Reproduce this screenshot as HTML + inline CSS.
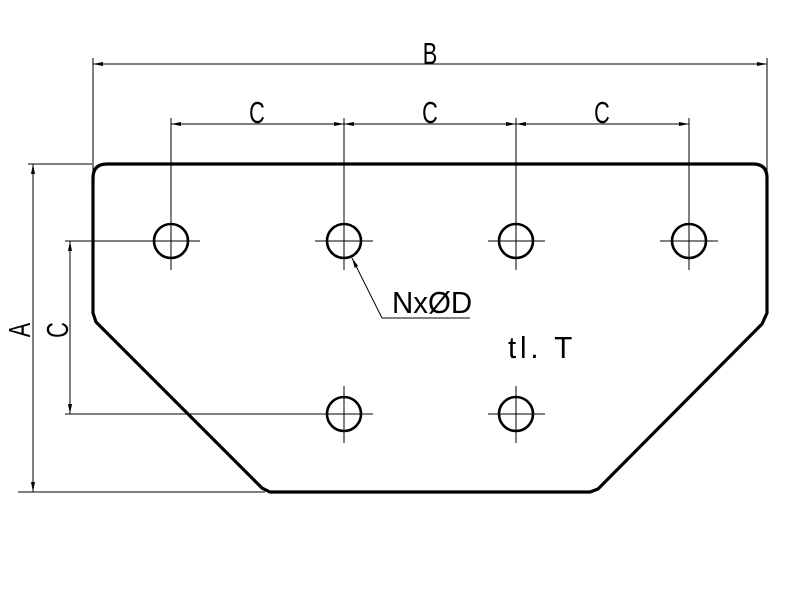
<!DOCTYPE html>
<html><head><meta charset="utf-8"><style>
html,body{margin:0;padding:0;background:#fff;}
svg{display:block}
text{font-family:"Liberation Sans",sans-serif;fill:#000;}
</style></head><body>
<svg width="800" height="599" viewBox="0 0 800 599" xmlns="http://www.w3.org/2000/svg">
<defs>
<marker id="ar" viewBox="0 0 10 4" refX="10" refY="2" markerWidth="10" markerHeight="4" markerUnits="userSpaceOnUse" orient="auto-start-reverse">
<path d="M0,0 L10,2 L0,4 z" fill="#000"/></marker>
</defs>
<g stroke="#000" fill="none">
<path d="M107,164 L753,164 Q767,164 767,178 L767,313 L762,324 L598,489 L590,492 L270,492 L262,488 L96,322 L93,313 L93,178 Q93,164 107,164 Z" stroke-width="3.2"/>
<g stroke-width="2.6">
<circle cx="171" cy="241" r="17"/><circle cx="344" cy="241" r="17"/>
<circle cx="516" cy="241" r="17"/><circle cx="689" cy="241" r="17"/>
<circle cx="344" cy="414" r="17"/><circle cx="516" cy="414" r="17"/>
</g>
<g stroke-width="1">
<path d="M133,241H200 M315,241H373 M488,241H545 M660,241H718"/>
<path d="M171,213V270 M344,213V270 M516,213V270 M689,213V270"/>
<path d="M315,414H373 M488,414H545 M344,386V443 M516,386V443"/>
<path d="M93,58V175 M767,58V175"/>
<path d="M171,118V241 M344,118V241 M516,118V241 M689,118V241"/>
<path d="M28,164H92 M18,492H265"/>
<path d="M65,241H200 M65,414H320"/>
<path d="M93,64H767" marker-start="url(#ar)" marker-end="url(#ar)"/>
<path d="M171,124H344" marker-start="url(#ar)" marker-end="url(#ar)"/>
<path d="M344,124H516" marker-start="url(#ar)" marker-end="url(#ar)"/>
<path d="M516,124H689" marker-start="url(#ar)" marker-end="url(#ar)"/>
<path d="M33,164V492" marker-start="url(#ar)" marker-end="url(#ar)"/>
<path d="M70,241V414" marker-start="url(#ar)" marker-end="url(#ar)"/>
<path d="M382,318L352,258" marker-end="url(#ar)"/>
<path d="M382,318H470"/>
</g>
</g>
<g font-size="31">
<text text-anchor="middle" transform="translate(430,64) scale(0.7,1)">B</text>
<text text-anchor="middle" transform="translate(257,123) scale(0.7,1)">C</text>
<text text-anchor="middle" transform="translate(430,123) scale(0.7,1)">C</text>
<text text-anchor="middle" transform="translate(602,123) scale(0.7,1)">C</text>
<text transform="translate(30,330) rotate(-90) scale(0.7,1)" text-anchor="middle">A</text>
<text transform="translate(68,330) rotate(-90) scale(0.7,1)" text-anchor="middle">C</text>
<text transform="translate(392,313) scale(0.95,1)">NxØD</text>
<text transform="translate(508,358) scale(0.95,1)" letter-spacing="4">tl.&#160;T</text>
</g>
</svg>
</body></html>
